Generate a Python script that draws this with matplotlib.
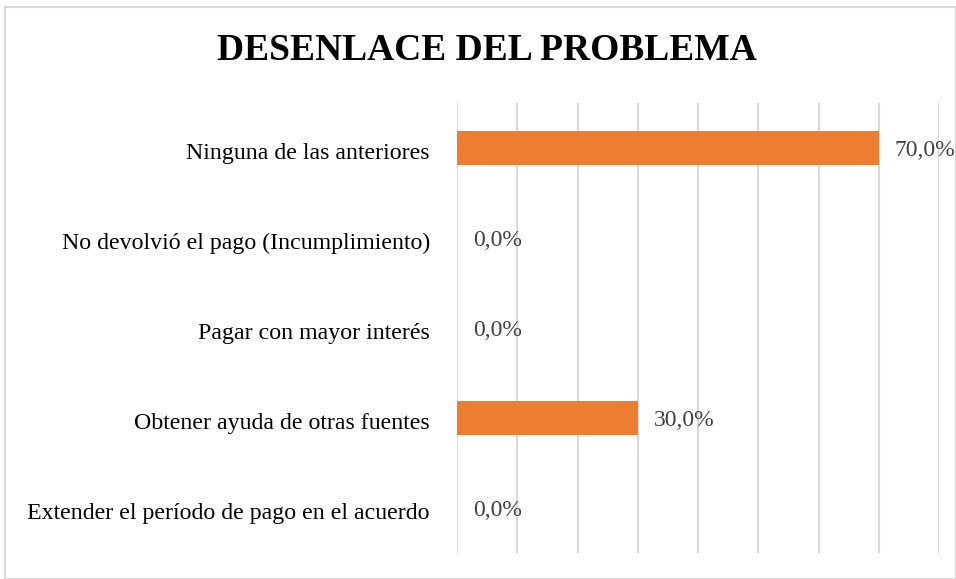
import matplotlib
matplotlib.use("Agg")
import matplotlib.pyplot as plt
from matplotlib.patches import Rectangle
from matplotlib.transforms import ScaledTranslation

categories = ["Ninguna de las anteriores",
              "No devolvió el pago (Incumplimiento)",
              "Pagar con mayor interés",
              "Obtener ayuda de otras fuentes",
              "Extender el período de pago en el acuerdo"]
values = [70.0, 0.0, 0.0, 30.0, 0.0]
title = "DESENLACE DEL PROBLEMA"

plt.rcParams['font.family'] = ['Liberation Serif', 'DejaVu Serif']

W, H = 956, 579
fig = plt.figure(figsize=(W/100, H/100), dpi=100)
ax = fig.add_axes([457/W, 1-553/H, (939-457)/W, (553-103)/H])

ypos = list(range(len(categories)))
ax.barh(ypos, values, height=0.37, color="#ED7D31", zorder=3)
ax.set_ylim(len(categories)-0.5, -0.5)
ax.set_xlim(0, 80)
ax.set_xticks(range(0, 81, 10))
ax.xaxis.grid(True, color="#D9D9D9", linewidth=1.5, zorder=0)
ax.tick_params(axis='x', length=0, labelbottom=False)
ax.tick_params(axis='y', length=0, pad=19.5)
ax.set_yticks(ypos)
ax.set_yticklabels(categories, fontsize=17.2, color="#000000")
shift = ScaledTranslation(0, -3/100, fig.dpi_scale_trans)
for lbl in ax.get_yticklabels():
    lbl.set_transform(lbl.get_transform() + shift)
for s in ax.spines.values():
    s.set_visible(False)

for y, v in zip(ypos, values):
    ax.annotate(f"{v:.1f}".replace(".", ",") + "%", xy=(v, y), xytext=(16, -3),
                textcoords="offset pixels", va="center", ha="left",
                fontsize=17, color="#404040", zorder=4)

fig.text(487/W, 1-51/H, title, ha="center", va="center", fontsize=27,
         fontweight="bold", color="#000000")

fig.patches.append(Rectangle((5/W, 0), (W-5)/W, (H-7)/H, transform=fig.transFigure,
                             fill=False, edgecolor="#D9D9D9", linewidth=1.5))

fig.savefig("out.png", dpi=100)
